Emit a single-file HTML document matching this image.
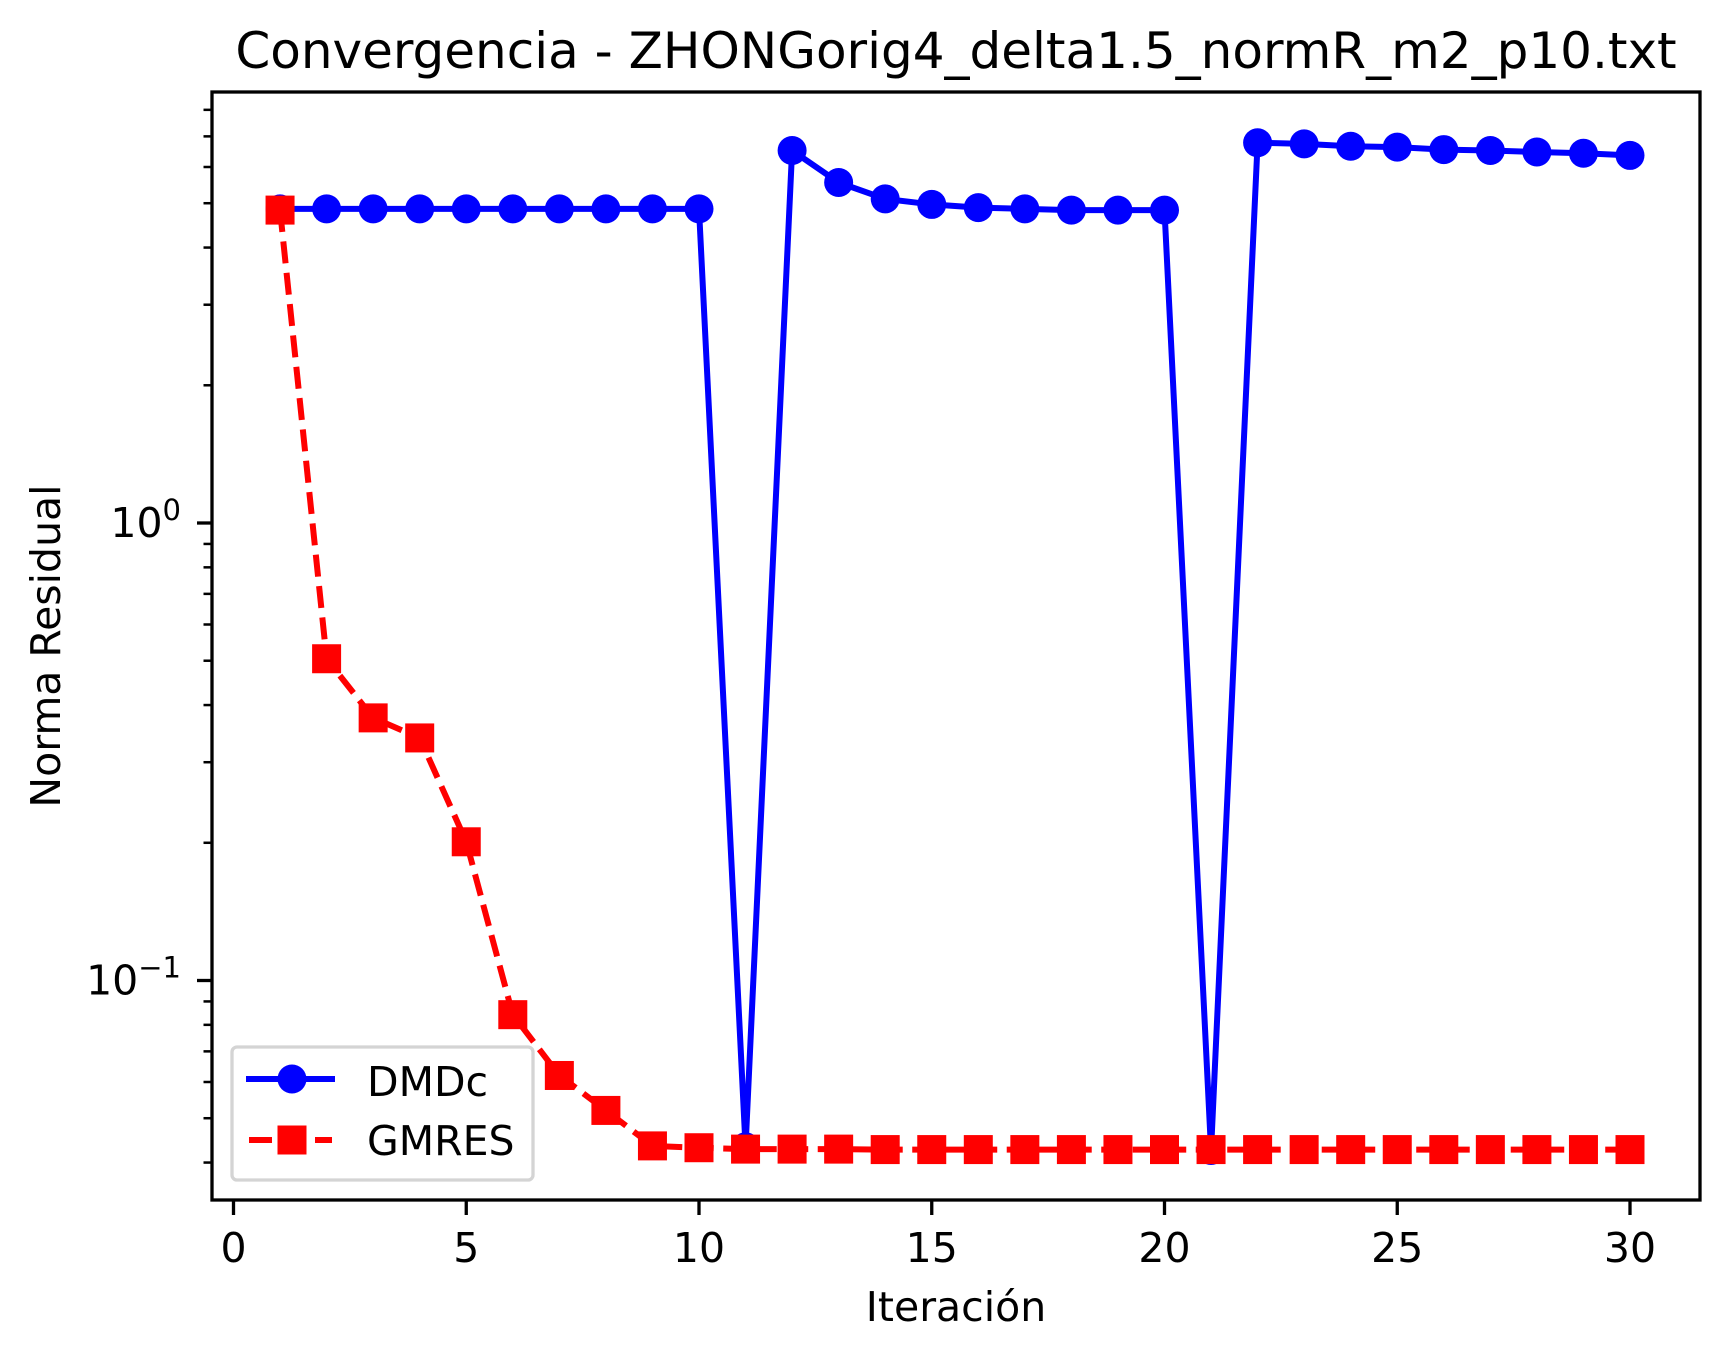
<!DOCTYPE html>
<html><head><meta charset="utf-8"><style>
html,body{margin:0;padding:0;background:#fff;}
svg{display:block;font-family:"DejaVu Sans","Liberation Sans",sans-serif;}
</style></head><body>
<svg id="chart" width="1729" height="1357" viewBox="0 0 1729 1357">
<rect x="0" y="0" width="1729" height="1357" fill="#fff"/>
<text x="956" y="68" font-size="50" text-anchor="middle">Convergencia - ZHONGorig4_delta1.5_normR_m2_p10.txt</text>
<g id="plot"></g>
<text x="956" y="1321" font-size="41" text-anchor="middle">Iteración</text>
<text x="0" y="0" font-size="41" text-anchor="middle" transform="translate(60,646) rotate(-90)">Norma Residual</text>
</svg>
<script>
const iterations = [1,2,3,4,5,6,7,8,9,10,11,12,13,14,15,16,17,18,19,20,21,22,23,24,25,26,27,28,29,30];
const dmdcValues = [4.86,4.86,4.86,4.86,4.86,4.86,4.86,4.86,4.86,4.86,0.0433,6.52,5.55,5.11,4.97,4.89,4.86,4.83,4.83,4.83,0.0425,6.78,6.74,6.66,6.63,6.55,6.52,6.47,6.43,6.36];
const gmresValues = [4.83,0.505,0.375,0.339,0.201,0.0842,0.062,0.052,0.0435,0.0431,0.0428,0.0428,0.0428,0.0427,0.0427,0.0427,0.0427,0.0427,0.0427,0.0427,0.0427,0.0427,0.0427,0.0427,0.0427,0.0427,0.0427,0.0427,0.0427,0.0427];
const xTicks = [0,5,10,15,20,25,30];
const yMajorExps = [-1,0];

const NS = 'http://www.w3.org/2000/svg';
const L = 212, R = 1700, T = 92, B = 1200;
const MR = 14.5;
const xScale = v => 233.5 + v * 46.55;
const yScale = v => 523 - Math.log10(v) * 457.5;
const g = document.getElementById('plot');
function mk(tag, attrs, parent) {
  const e = document.createElementNS(NS, tag);
  for (const k in attrs) e.setAttribute(k, attrs[k]);
  (parent || g).appendChild(e);
  return e;
}
xTicks.forEach(t => {
  const x = xScale(t);
  const l = mk('line', {x1: x, x2: x, y1: B, y2: B + 15, stroke: '#000', 'stroke-width': 3.3});
  
  
  const tx = mk('text', {x: x, y: 1262, 'font-size': 41, 'text-anchor': 'middle'});
  tx.textContent = t;
  
  
});
for (let e = -2; e <= 1; e++) {
  for (let m = 1; m <= 9; m++) {
    const v = m * Math.pow(10, e);
    const y = yScale(v);
    if (y < T - 0.5 || y > B + 0.5) continue;
    const major = m === 1;
    const l = mk('line', {x1: L, x2: L - (major ? 15 : 8.5), y1: y, y2: y, stroke: '#000', 'stroke-width': major ? 3.3 : 2.5});
    
    
  }
}
yMajorExps.forEach(e => {
  const y = yScale(Math.pow(10, e));
  const tx = mk('text', {x: 181, y: y + 14, 'font-size': 41, 'text-anchor': 'end'});
  
  
  const base = document.createElementNS(NS, 'tspan'); base.textContent = '10'; tx.appendChild(base);
  const sup = document.createElementNS(NS, 'tspan');
  sup.setAttribute('dy', -17); sup.setAttribute('font-size', 29);
  sup.textContent = e === 0 ? '0' : '\u22121';
  tx.appendChild(sup);
});
const defs = mk('defs', {});
const cp = mk('clipPath', {id: 'clip'}, defs);
mk('rect', {x: L, y: T, width: R - L, height: B - T}, cp);
const data = mk('g', {'clip-path': 'url(#clip)'});
const dPts = iterations.map((it, i) => xScale(it) + ',' + yScale(dmdcValues[i])).join(' ');
const dl = mk('polyline', {points: dPts, fill: 'none', stroke: '#0000ff', 'stroke-width': 6, 'stroke-linejoin': 'round'}, data);


const gPts = iterations.map((it, i) => xScale(it) + ',' + yScale(gmresValues[i])).join(' ');
const gl = mk('polyline', {points: gPts, fill: 'none', stroke: '#ff0000', 'stroke-width': 6, 'stroke-dasharray': '22,9.5'}, data);


iterations.forEach((it, i) => {
  const c = mk('ellipse', {cx: xScale(it), cy: yScale(dmdcValues[i]), rx: MR, ry: MR, fill: '#0000ff'}, data);
  
  
});
iterations.forEach((it, i) => {
  const r = mk('rect', {x: xScale(it) - MR, y: yScale(gmresValues[i]) - MR, width: 2 * MR, height: 2 * MR, fill: '#ff0000'}, data);
  
  
});
const sp = mk('rect', {x: L, y: T, width: R - L, height: B - T, fill: 'none', stroke: '#000', 'stroke-width': 3.3});


const lg = mk('g', {});


mk('rect', {x: 232, y: 1047, width: 301, height: 133, rx: 5, fill: 'rgba(255,255,255,0.8)', stroke: '#d4d4d4', 'stroke-width': 3.3}, lg);
const e1 = mk('g', {}, lg);


mk('line', {x1: 246, x2: 335, y1: 1079, y2: 1079, stroke: '#0000ff', 'stroke-width': 6}, e1);
mk('circle', {cx: 292, cy: 1079, r: MR, fill: '#0000ff'}, e1);
const t1 = mk('text', {x: 367, y: 1096, 'font-size': 41}, e1); t1.textContent = 'DMDc';
const e2 = mk('g', {}, lg);


mk('line', {x1: 249, x2: 272, y1: 1140, y2: 1140, stroke: '#ff0000', 'stroke-width': 6}, e2);
mk('line', {x1: 315, x2: 332, y1: 1140, y2: 1140, stroke: '#ff0000', 'stroke-width': 6}, e2);
mk('rect', {x: 277.5, y: 1125.5, width: 29, height: 29, fill: '#ff0000'}, e2);
const t2 = mk('text', {x: 367, y: 1155, 'font-size': 41}, e2); t2.textContent = 'GMRES';
</script>
</body></html>
